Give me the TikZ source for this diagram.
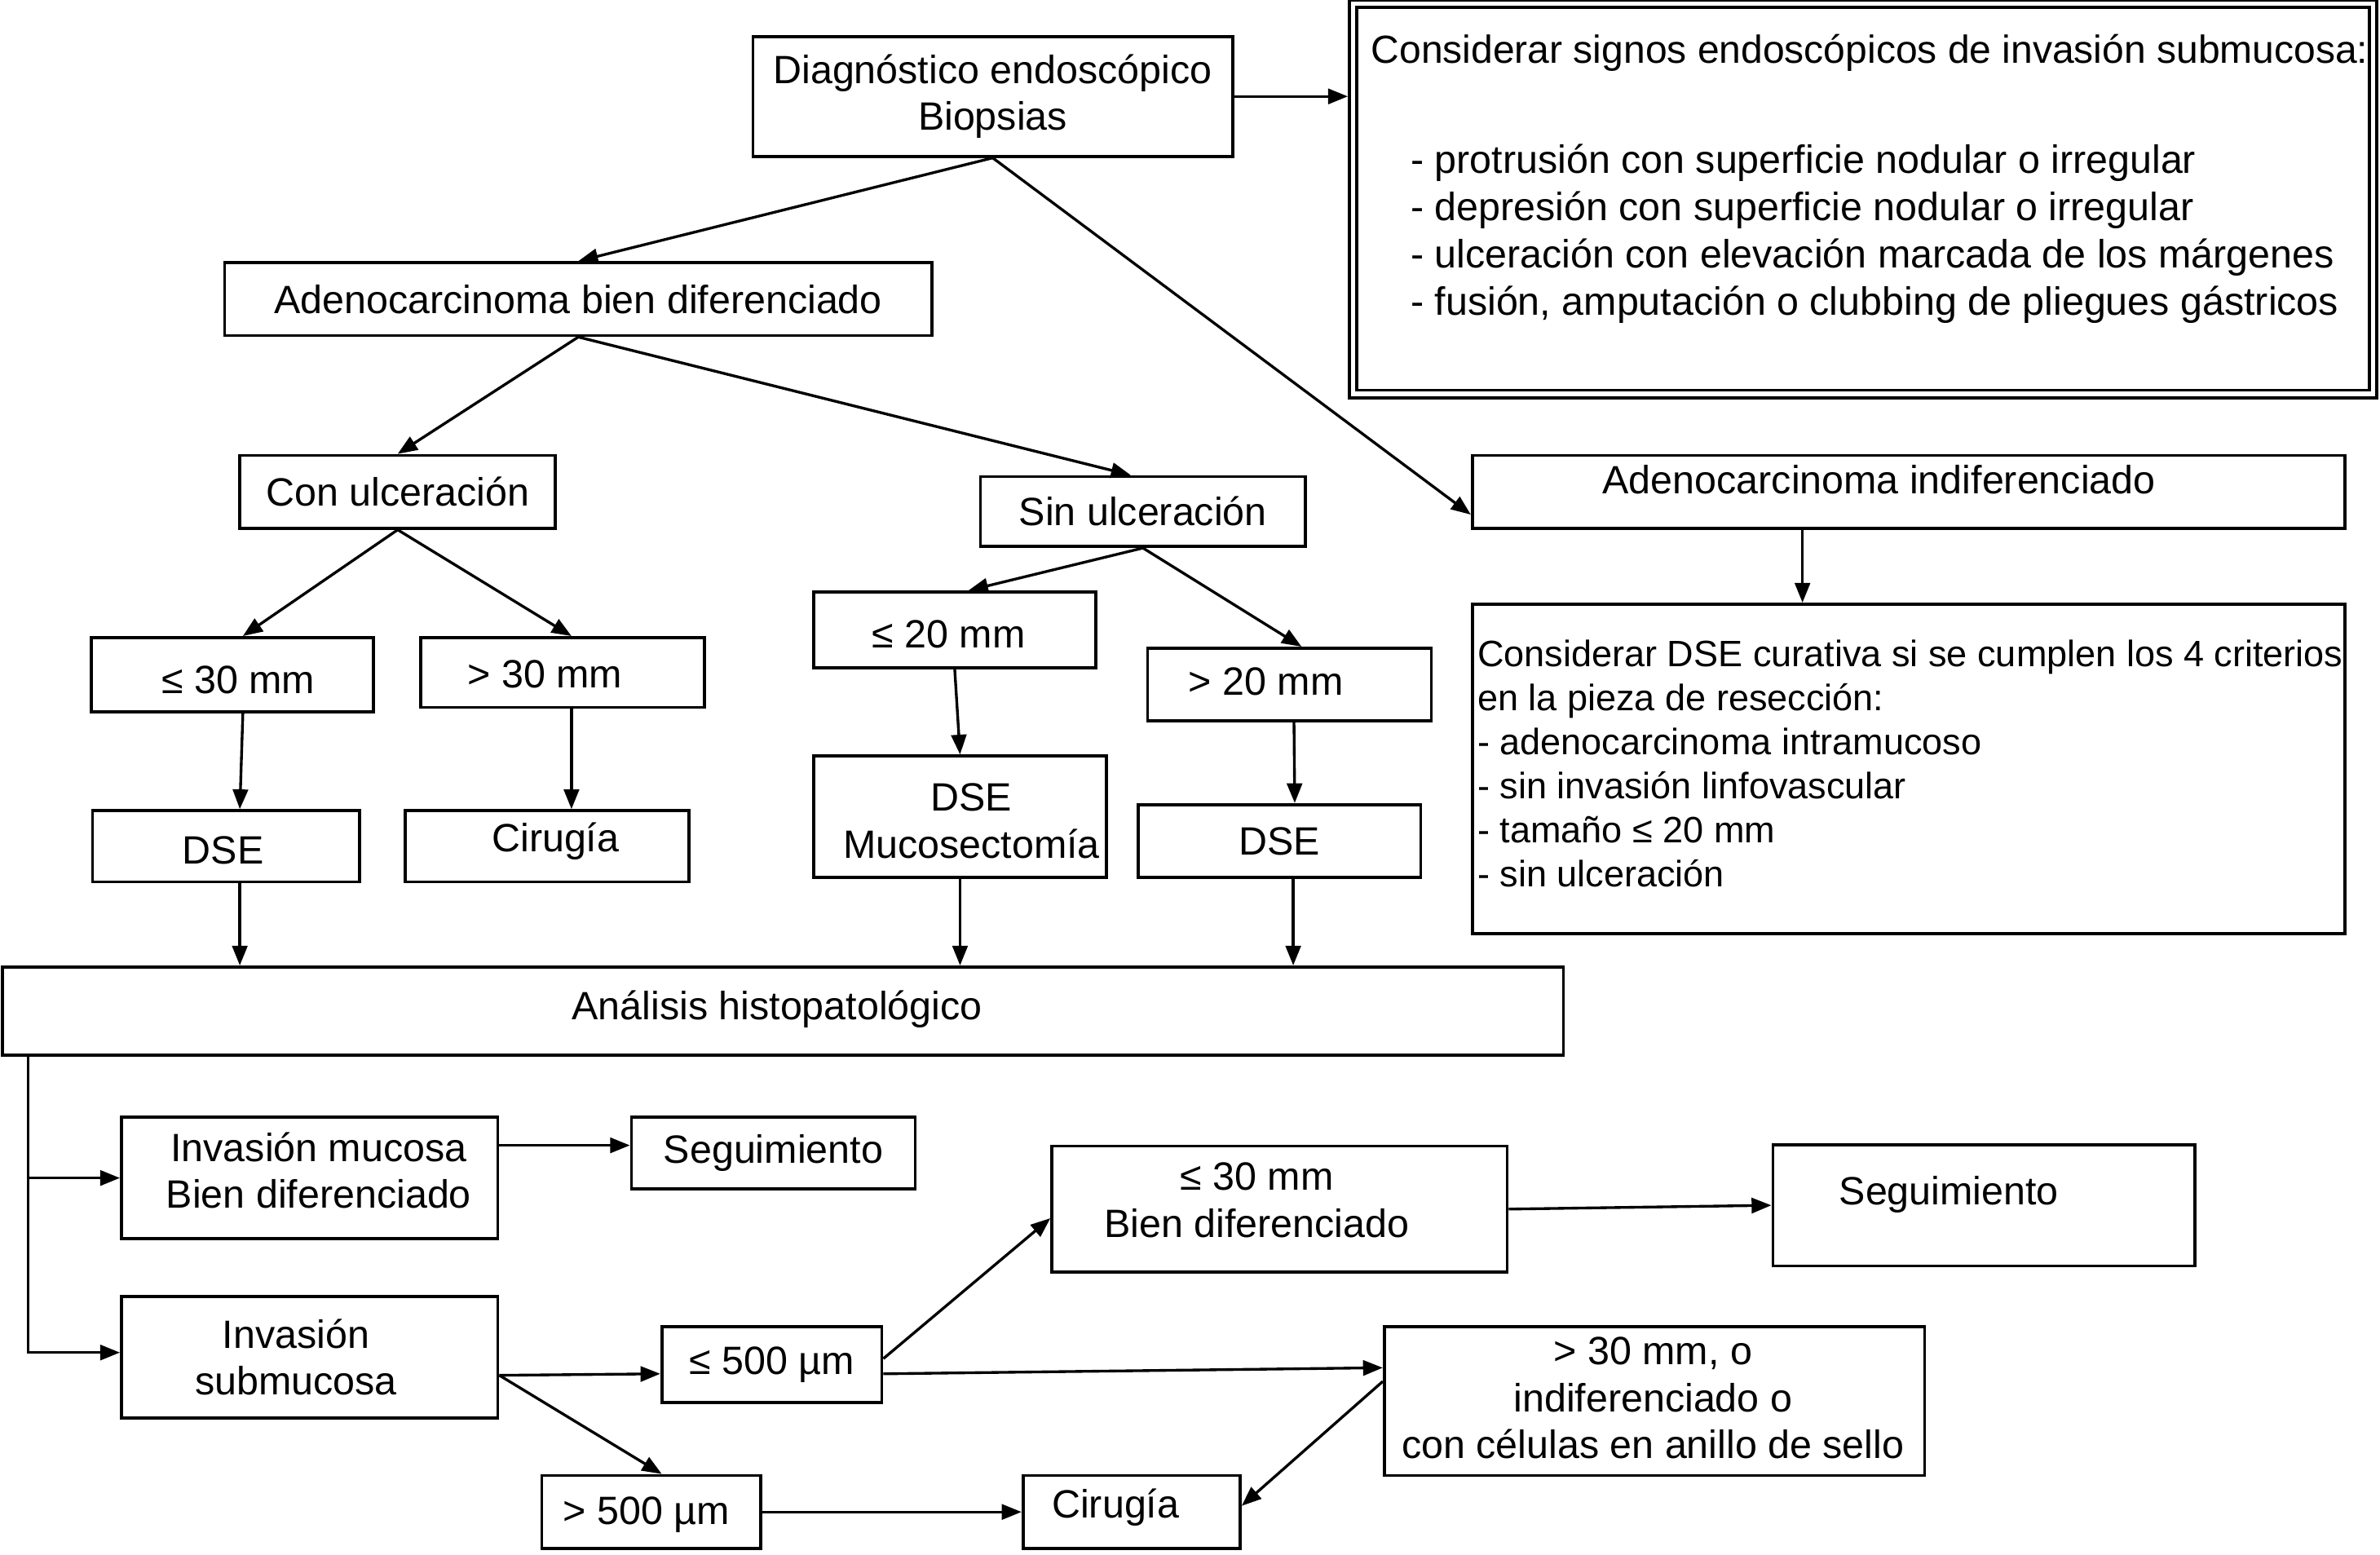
\documentclass[tikz,border=0pt]{standalone}
\usepackage{fontspec}
\setmainfont{Liberation Sans}
\usetikzlibrary{arrows.meta,calc}
\begin{document}
\begin{tikzpicture}[x=0.5pt,y=-0.5pt,
  box/.style 2 args={draw, line width=1pt, inner sep=0pt, align=center, minimum width=#1pt, minimum height=#2pt, font=\fontsize{13pt}{15.5pt}\selectfont},
  txt/.style={inner sep=0pt, align=center, font=\fontsize{13pt}{15.5pt}\selectfont},
  arr/.style={line width=0.9pt, -{Triangle[length=6.5pt,width=5pt]}}]
\useasboundingbox (0,0) rectangle (1568,1024);

% boxes
\node[box={158}{39.5}] (diag) at (654,63.5) {Diagnóstico endoscópico\\Biopsias};
\node[box={336}{128.5}, double, double distance=1.5pt] (signs) at (1227.5,131) {};
\node[txt, anchor=west, font=\fontsize{12.9pt}{15.5pt}\selectfont] (signsA) at (903,35) {Considerar signos endoscópicos de invasión submucosa:};
\node[txt, anchor=west, align=left] (signsB) at (929,154) {- protrusión con superficie nodular o irregular\\- depresión con superficie nodular o irregular\\- ulceración con elevación marcada de los márgenes\\- fusión, amputación o clubbing de pliegues gástricos};

\node[box={233}{24}] (adbien) at (381,197) {Adenocarcinoma bien diferenciado};
\node[box={104}{24}] (conulc) at (262,324) {Con ulceración};
\node[box={107}{23}] (sinulc) at (753,337) {Sin ulceración};
\node[box={287.5}{24}] (adind) at (1257.5,324) {};
\node[txt] (adindT) at (1238,316) {Adenocarcinoma indiferenciado};
\node[box={287.5}{108.5}] (dsecrit) at (1257.5,506.5) {};
\node[txt, anchor=west, align=left, font=\fontsize{12.1pt}{14.5pt}\selectfont] (dsecritT) at (973,503) {Considerar DSE curativa si se cumplen los 4 criterios\\en la pieza de resección:\\- adenocarcinoma intramucoso\\- sin invasión linfovascular\\- tamaño ≤ 20 mm\\- sin ulceración};

\node[box={93}{24.5}] (le30) at (153,444.5) {};
\node[txt] (le30T) at (157,448) {≤ 30 mm};
\node[box={93.5}{23}] (gt30) at (370.5,443) {};
\node[txt] (gt30T) at (359,444) {> 30 mm};
\node[box={93}{25}] (le20) at (629,415) {};
\node[txt] (le20T) at (625,418) {≤ 20 mm};
\node[box={93.5}{24}] (gt20) at (849.5,451) {};
\node[txt] (gt20T) at (834,449) {> 20 mm};

\node[box={88}{23.5}] (dse1) at (149,557.5) {};
\node[txt] (dse1T) at (147,560) {DSE};
\node[box={93.5}{23.5}] (cir1) at (360.5,557.5) {};
\node[txt] (cir1T) at (366,554) {Cirugía};
\node[box={96.5}{40}] (dsemuc) at (632.5,538) {};
\node[txt] (dsemucT) at (640,541) {DSE\\Mucosectomía};
\node[box={93}{24}] (dse2) at (843,554) {DSE};

\node[box={514.25}{29}] (anal) at (515.75,666) {};
\node[txt] (analT) at (512,665) {Análisis histopatológico};

\node[box={124}{40}] (invmuc) at (204,776) {};
\node[txt] (invmucT) at (210,771) {Invasión mucosa\\Bien diferenciado};
\node[box={93.5}{23.5}] (seg1) at (509.5,759.5) {Seguimiento};
\node[box={150}{41.5}] (le30b) at (843,796.5) {};
\node[txt] (le30bT) at (828,790.5) {≤ 30 mm\\Bien diferenciado};
\node[box={139}{40}] (seg2) at (1307,794) {};
\node[txt] (seg2T) at (1284,787) {Seguimiento};
\node[box={124}{40}] (invsub) at (204,894) {};
\node[txt] (invsubT) at (195,894) {Invasión\\submucosa};
\node[box={72.5}{25}] (le500) at (508.5,899) {≤ 500 µm};
\node[box={178}{49}] (gt30c) at (1090,923) {};
\node[txt] (gt30cT) at (1089,921) {> 30 mm, o\\indiferenciado o\\con células en anillo de sello};
\node[box={72}{24}] (gt500) at (429,996) {};
\node[txt] (gt500T) at (426,998) {> 500 µm};
\node[box={71.5}{24}] (cir2) at (745.5,996) {};
\node[txt] (cir2T) at (735,993) {Cirugía};

% helper coordinates
\coordinate (d1s) at ([xshift=4.5pt]dse1.south);
\coordinate (d2s) at ([xshift=4.5pt]dse2.south);
\coordinate (lb) at ([xshift=9pt]anal.south west);
\coordinate (s1w) at ([yshift=2.5pt]seg1.west);
\coordinate (ise) at ([yshift=-6pt]invsub.east);

% connectors
\draw[arr] (diag.east) -- ([xshift=-1.25pt]signs.west |- diag.east);
\draw[arr] (diag.south) -- (adbien.north);
\draw[arr] (diag.south) -- ([yshift=5pt]adind.south west);
\draw[arr] (adbien.south) -- (conulc.north);
\draw[arr] (adbien.south) -- ([xshift=-4pt]sinulc.north);
\draw[arr] (conulc.south) -- ([xshift=3.5pt]le30.north);
\draw[arr] (conulc.south) -- ([xshift=3pt]gt30.north);
\draw[arr] (sinulc.south) -- ([xshift=4.5pt]le20.north);
\draw[arr] (sinulc.south) -- ([xshift=4pt]gt20.north);
\draw[arr] ([xshift=3.5pt]le30.south) -- ([xshift=4.5pt]dse1.north);
\draw[arr] ([xshift=3pt]gt30.south) -- ([xshift=8pt]cir1.north);
\draw[arr] (le20.south) -- (dsemuc.north);
\draw[arr] ([xshift=1.5pt]gt20.south) -- ([xshift=5pt]dse2.north);
\draw[arr] (d1s) -- (d1s |- anal.north);
\draw[arr] (dsemuc.south) -- (dsemuc.south |- anal.north);
\draw[arr] (d2s) -- (d2s |- anal.north);
\draw[arr] ([xshift=-35pt]adind.south) -- ([xshift=-35pt]dsecrit.north);
\draw[arr] (lb) |- ([yshift=1.5pt]invsub.west);
\draw[arr] (lb |- invmuc.west) -- (invmuc.west);
\draw[arr] (invmuc.east |- s1w) -- (s1w);
\draw[arr] (ise) -- ([yshift=-3pt]le500.west);
\draw[arr] (ise) -- ([xshift=3.5pt]gt500.north);
\draw[arr] ([yshift=2pt]le500.east) -- ([yshift=-3pt]le30b.west);
\draw[arr] ([yshift=-3pt]le500.east) -- ([yshift=11pt]gt30c.west);
\draw[arr] (gt500.east) -- (cir2.west);
\draw[arr] ([yshift=6.5pt]gt30c.west) -- ([yshift=2pt]cir2.east);
\draw[arr] (le30b.east) -- (seg2.west);
\end{tikzpicture}
\end{document}
